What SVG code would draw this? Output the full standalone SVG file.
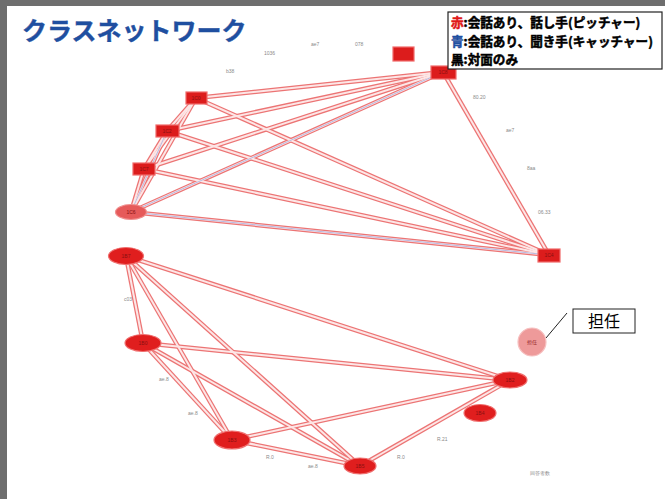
<svg xmlns="http://www.w3.org/2000/svg" width="665" height="499" viewBox="0 0 665 499">
<style>
.e1{stroke:#ec7474;stroke-width:4.5;fill:none;stroke-linecap:butt}
.e2{stroke:#fde6e6;stroke-width:2;fill:none}
.eb{stroke:#9aa8e0;stroke-width:1;fill:none;opacity:0.7}
.rn{fill:#dc1c1c;stroke:#f06a6a;stroke-width:1.2}
.en{fill:#e01e1e;stroke:#f07070;stroke-width:1.2}
.sm{font-family:"Liberation Sans",Arial,sans-serif;font-size:5px;fill:#8a8a8a}
.nl{font-family:"Liberation Sans",Arial,sans-serif;font-size:5px;fill:#8a1010;text-anchor:middle}
.lg{font-family:"Noto Sans CJK JP","Noto Sans CJK SC",sans-serif;font-size:12.6px;font-weight:bold;stroke-width:0.5}
</style>
<rect x="0" y="0" width="665" height="499" fill="#6e6e6e"/>
<rect x="7" y="6" width="658" height="493" fill="#ffffff"/>
<text x="22" y="40" font-family="Noto Sans CJK JP,Noto Sans CJK SC,sans-serif" font-size="25" font-weight="bold" fill="#1f4fa0" stroke="#1f4fa0" stroke-width="0.4">クラスネットワーク</text>
<g id="connectors">
<g class="outer">
<line class="e1" x1="443" y1="72" x2="196" y2="98"/>
<line class="e1" x1="443" y1="72" x2="167" y2="131"/>
<line class="e1" x1="443" y1="72" x2="144" y2="169"/>
<line class="e1" x1="443" y1="72" x2="131" y2="212"/>
<line class="e1" x1="196" y1="98" x2="549" y2="255"/>
<line class="e1" x1="167" y1="131" x2="549" y2="255"/>
<line class="e1" x1="144" y1="169" x2="549" y2="255"/>
<line class="e1" x1="131" y1="212" x2="549" y2="255"/>
<line class="e1" x1="443" y1="72" x2="549" y2="255"/>
<line class="e1" x1="196" y1="98" x2="167" y2="131"/>
<line class="e1" x1="167" y1="131" x2="144" y2="169"/>
<line class="e1" x1="144" y1="169" x2="131" y2="212"/>
<line class="e1" x1="196" y1="98" x2="144" y2="169"/>
<line class="e1" x1="196" y1="98" x2="131" y2="212"/>
<line class="e1" x1="167" y1="131" x2="131" y2="212"/>
<line class="e1" x1="126" y1="256" x2="143" y2="343"/>
<line class="e1" x1="126" y1="256" x2="232" y2="440"/>
<line class="e1" x1="126" y1="256" x2="360" y2="466"/>
<line class="e1" x1="126" y1="256" x2="510" y2="380"/>
<line class="e1" x1="143" y1="343" x2="232" y2="440"/>
<line class="e1" x1="143" y1="343" x2="360" y2="466"/>
<line class="e1" x1="143" y1="343" x2="510" y2="380"/>
<line class="e1" x1="232" y1="440" x2="360" y2="466"/>
<line class="e1" x1="232" y1="440" x2="510" y2="380"/>
<line class="e1" x1="360" y1="466" x2="510" y2="380"/>
</g>
<g class="inner">
<line class="e2" x1="443" y1="72" x2="196" y2="98"/>
<line class="e2" x1="443" y1="72" x2="167" y2="131"/>
<line class="e2" x1="443" y1="72" x2="144" y2="169"/>
<line class="e2" x1="443" y1="72" x2="131" y2="212"/>
<line class="e2" x1="196" y1="98" x2="549" y2="255"/>
<line class="e2" x1="167" y1="131" x2="549" y2="255"/>
<line class="e2" x1="144" y1="169" x2="549" y2="255"/>
<line class="e2" x1="131" y1="212" x2="549" y2="255"/>
<line class="e2" x1="443" y1="72" x2="549" y2="255"/>
<line class="e2" x1="196" y1="98" x2="167" y2="131"/>
<line class="e2" x1="167" y1="131" x2="144" y2="169"/>
<line class="e2" x1="144" y1="169" x2="131" y2="212"/>
<line class="e2" x1="196" y1="98" x2="144" y2="169"/>
<line class="e2" x1="196" y1="98" x2="131" y2="212"/>
<line class="e2" x1="167" y1="131" x2="131" y2="212"/>
<line class="e2" x1="126" y1="256" x2="143" y2="343"/>
<line class="e2" x1="126" y1="256" x2="232" y2="440"/>
<line class="e2" x1="126" y1="256" x2="360" y2="466"/>
<line class="e2" x1="126" y1="256" x2="510" y2="380"/>
<line class="e2" x1="143" y1="343" x2="232" y2="440"/>
<line class="e2" x1="143" y1="343" x2="360" y2="466"/>
<line class="e2" x1="143" y1="343" x2="510" y2="380"/>
<line class="e2" x1="232" y1="440" x2="360" y2="466"/>
<line class="e2" x1="232" y1="440" x2="510" y2="380"/>
<line class="e2" x1="360" y1="466" x2="510" y2="380"/>
</g>
<g class="blue">
<line class="eb" x1="443" y1="72" x2="131" y2="212"/>
<line class="eb" x1="131" y1="212" x2="549" y2="255"/>
<line class="eb" x1="167" y1="131" x2="131" y2="212"/>
</g>
<line x1="567" y1="313" x2="546" y2="338" stroke="#222" stroke-width="1"/>
</g>
<g id="labels">
<text class="sm" x="264" y="55">1036</text>
<text class="sm" x="311" y="46">ae7</text>
<text class="sm" x="355" y="46">078</text>
<text class="sm" x="226" y="73">b38</text>
<text class="sm" x="473" y="99">80.20</text>
<text class="sm" x="506" y="132">ae7</text>
<text class="sm" x="527" y="170">8aa</text>
<text class="sm" x="538" y="214">06.33</text>
<text class="sm" x="124" y="301">c03</text>
<text class="sm" x="159" y="381">ae.8</text>
<text class="sm" x="188" y="415">ae.8</text>
<text class="sm" x="266" y="459">R.0</text>
<text class="sm" x="308" y="468">ae.8</text>
<text class="sm" x="397" y="459">R.0</text>
<text class="sm" x="437" y="441">R.21</text>
<text class="sm" x="530" y="475">回答者数</text>
</g>
<g id="nA"><rect class="rn" x="393" y="47" width="21" height="14"/></g>
<g id="nB"><rect class="rn" x="431" y="66" width="25" height="13"/><text class="nl" x="443" y="74">1C8</text></g>
<g id="nC"><rect class="rn" x="186" y="92" width="21" height="12"/><text class="nl" x="196" y="100">1C0</text></g>
<g id="nD"><rect class="rn" x="156" y="125" width="23" height="12"/><text class="nl" x="167" y="133">1C2</text></g>
<g id="nE"><rect class="rn" x="133" y="163" width="22" height="12"/><text class="nl" x="144" y="171">1C7</text></g>
<g id="nF"><ellipse cx="131" cy="212" rx="15.5" ry="7.5" fill="#e65a5a" stroke="#f09090" stroke-width="1.2"/><text class="nl" x="131" y="214">1C6</text></g>
<g id="nG"><rect class="rn" x="538" y="249" width="22" height="13"/><text class="nl" x="549" y="257">1C4</text></g>
<g id="nH"><ellipse class="en" cx="126" cy="256" rx="17.5" ry="8.5"/><text class="nl" x="126" y="258">1B7</text></g>
<g id="nI"><ellipse class="en" cx="143" cy="343" rx="18" ry="8.5"/><text class="nl" x="143" y="345">1B0</text></g>
<g id="nJ"><ellipse class="en" cx="232" cy="440" rx="18" ry="9"/><text class="nl" x="232" y="442">1B3</text></g>
<g id="nK"><ellipse class="en" cx="360" cy="466" rx="16" ry="8"/><text class="nl" x="360" y="468">1B5</text></g>
<g id="nL"><ellipse class="en" cx="510" cy="380" rx="17" ry="8"/><text class="nl" x="510" y="382">1B2</text></g>
<g id="nM"><ellipse class="en" cx="480" cy="413" rx="16" ry="8.5"/><text class="nl" x="480" y="415">1B4</text></g>
<g id="nN"><circle cx="532" cy="342" r="14" fill="#ee9a9a" stroke="#f6c0c0" stroke-width="1.2"/><text class="nl" x="532" y="344">担任</text></g>
<g id="legend">
<rect x="448" y="12" width="214" height="57" fill="#ffffff" stroke="#222" stroke-width="1.2"/>
<text class="lg" x="451" y="27"><tspan fill="#e01818" stroke="#e01818">赤</tspan><tspan fill="#000" stroke="#000">:会話あり、話し手(ピッチャー)</tspan></text>
<text class="lg" x="451" y="45.5"><tspan fill="#1f4fa0" stroke="#1f4fa0">青</tspan><tspan fill="#000" stroke="#000">:会話あり、聞き手(キャッチャー)</tspan></text>
<text class="lg" x="451" y="64"><tspan fill="#000" stroke="#000">黒:対面のみ</tspan></text>
</g>
<g id="tannin">
<rect x="573" y="309" width="62" height="24" fill="#ffffff" stroke="#222" stroke-width="1"/>
<text x="604" y="327" text-anchor="middle" font-family="Noto Sans CJK JP,sans-serif" font-size="16" fill="#000">担任</text>
</g>
</svg>
